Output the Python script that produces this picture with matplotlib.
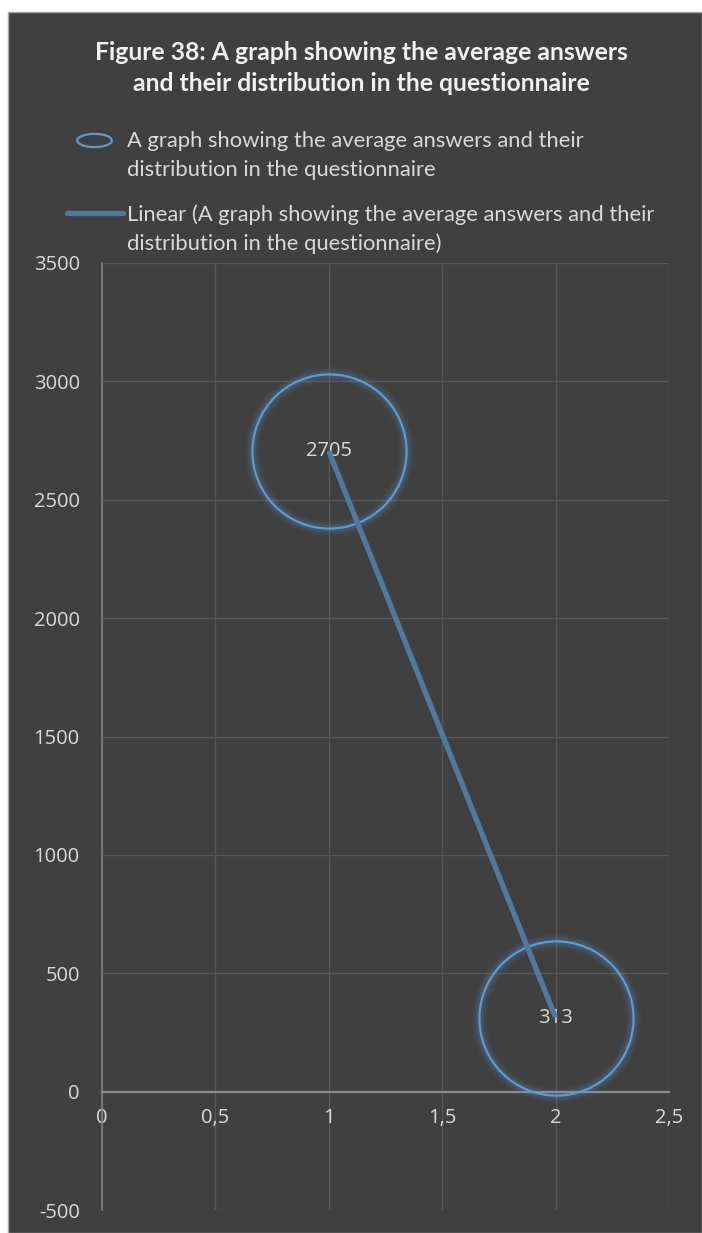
import numpy as np
import matplotlib
matplotlib.use("Agg")
import matplotlib.pyplot as plt
from matplotlib.path import Path
from matplotlib.lines import Line2D
from matplotlib.patches import Rectangle

plt.rcParams['font.family'] = ['Lato', 'DejaVu Sans']
plt.rcParams['axes.unicode_minus'] = False

# dados do gráfico
x_vals = [1, 2]
y_vals = [2705, 313]
point_labels = ['2705', '313']
xticks = [0, 0.5, 1, 1.5, 2, 2.5]
xtick_labels = ['0', '0,5', '1', '1,5', '2', '2,5']
yticks = [-500, 0, 500, 1000, 1500, 2000, 2500, 3000, 3500]
series_name = 'A graph showing the average answers and their\ndistribution in the questionnaire'
trend_name = 'Linear (A graph showing the average answers and their\ndistribution in the questionnaire)'
title = 'Figure 38: A graph showing the average answers\nand their distribution in the questionnaire'

W, H = 702, 1233
num_font = ['Open Sans', 'DejaVu Sans']

fig = plt.figure(figsize=(W / 100, H / 100), dpi=100, facecolor='white')
fig.patches.append(Rectangle((8 / W, 0), 1 - 8 / W, 1 - 12 / H, transform=fig.transFigure,
                             facecolor='#404040', edgecolor='#A6A6A6', lw=1, zorder=-5))

ax = fig.add_axes([102 / W, 1 - 1210 / H, 567 / W, (1210 - 263) / H])
ax.set_facecolor('none')
ax.set_xlim(0, 2.5)
ax.set_ylim(-500, 3500)
ax.set_xticks(xticks, xtick_labels)
ax.set_yticks(yticks)
ax.grid(color='#575757', lw=1)
ax.set_axisbelow(True)
for s in ['top', 'right']:
    ax.spines[s].set_visible(False)
ax.spines['bottom'].set_position(('data', 0))
ax.spines['bottom'].set_color('#8C8C8C')
ax.spines['bottom'].set_linewidth(1.6)
ax.spines['left'].set_color('#7F7F7F')
ax.spines['left'].set_linewidth(1.2)
ax.tick_params(length=0, colors='#D9D9D9', labelsize=14.5)
ax.tick_params(axis='x', pad=12)
ax.tick_params(axis='y', pad=16)
for lab in ax.get_xticklabels() + ax.get_yticklabels():
    lab.set_family(num_font)

# círculos com brilho
blue = '#5B9BD5'
for w, a in [(11, 0.06), (8, 0.08), (5, 0.12)]:
    ax.plot(x_vals, y_vals, 'o', ms=111, mfc='none', mec=blue, mew=w, alpha=a, zorder=3)
ax.plot(x_vals, y_vals, 'o', ms=111, mfc='none', mec=blue, mew=1.6, zorder=4)

for x, y, t in zip(x_vals, y_vals, point_labels):
    ax.text(x, y, t, ha='center', va='center', color='#D9D9D9', fontsize=14.5,
            family=num_font, zorder=5)

# linha de tendência linear
coef = np.polyfit(x_vals, y_vals, 1)
xt = np.array(x_vals, dtype=float)
ax.plot(xt, np.polyval(coef, xt), color='#4E7AA2', lw=3.8, solid_capstyle='butt', zorder=6)

# legenda (desenhada à mão para alinhar o símbolo com a primeira linha)
th = np.linspace(0, 2 * np.pi, 60)
ell = Path(np.column_stack([np.cos(th), 0.38 * np.sin(th)]))
fig.add_artist(Line2D([94 / W], [1 - 140 / H], marker=ell, ls='none', ms=25,
                      mfc='none', mec=blue, mew=1.6, transform=fig.transFigure))
fig.add_artist(Line2D([67 / W, 123 / W], [1 - 213 / H, 1 - 213 / H], color='#4E7AA2',
                      lw=3.8, solid_capstyle='round', transform=fig.transFigure))
for yy, lab in [(140, series_name), (213, trend_name)]:
    fig.text(127 / W, 1 - (yy - 9) / H, lab, ha='left', va='top', fontsize=15.8,
             color='#D9D9D9', linespacing=1.55)

fig.text(361 / W, 1 - 68 / H, title, ha='center', va='center', fontsize=17.8,
         fontweight='bold', color='#F2F2F2', linespacing=1.45)

fig.savefig('out.png', dpi=100, facecolor=fig.get_facecolor())
